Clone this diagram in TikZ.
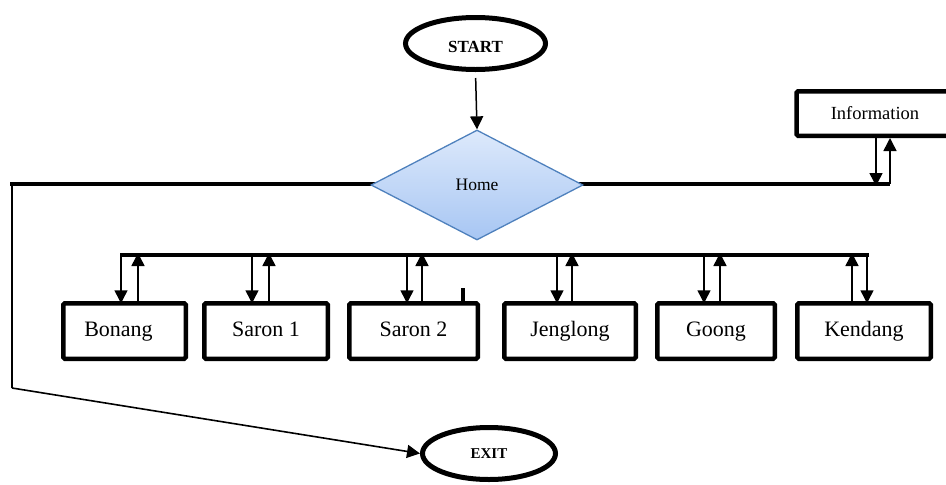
\documentclass[tikz,border=0pt]{standalone}
\usepackage{fontspec}
\setmainfont{Liberation Serif}
\usetikzlibrary{shapes.geometric,arrows.meta}
\definecolor{dborder}{HTML}{4F81BD}
\definecolor{dtop}{HTML}{DDE9FB}
\definecolor{dbot}{HTML}{A7C6F3}
\tikzset{
  term/.style={ellipse,draw,line width=5pt,inner sep=0pt,font=\fontsize{15}{17}\selectfont\bfseries},
  instr/.style={rectangle,draw,line width=4.5pt,rounded corners=1.5pt,inner sep=0pt,minimum height=55.5pt,
    text height=14.5pt,text depth=4.5pt,font=\fontsize{22}{26}\selectfont},
  decis/.style={diamond,draw=dborder,line width=1.3pt,top color=dtop,bottom color=dbot,
      minimum width=212pt,minimum height=110pt,aspect=1.93,inner sep=0pt,
      font=\fontsize{17.5}{20}\selectfont},
  bus/.style={line width=4.5pt},
  thinl/.style={line width=1.6pt},
  arr/.style={line width=1.5pt,-{Triangle[width=13pt,length=13pt]}},
}
\begin{document}
\begin{tikzpicture}[x=1pt,y=-1pt]
\useasboundingbox (0,0) rectangle (946,485);
% terminals
\node[term,minimum width=140pt,minimum height=52pt,text height=18pt,text depth=0pt,
      font=\fontsize{17}{19}\selectfont\bfseries] (start) at (475.5,43.5) {START};
\node[term,minimum width=133pt,minimum height=52pt] (exit) at (489,453.5) {EXIT};
% main line
\coordinate (mainL) at (10,184);
\coordinate (mainR) at (890,184);
\draw[bus] (mainL) -- (mainR);
% decision
\node[decis] (home) at (477,185) {Home};
\draw[arr,shorten <=6pt] (start.south) -- (home.north);
% information
\node[rectangle,draw,line width=4.5pt,rounded corners=1.5pt,inner sep=0pt,
      minimum width=164pt,minimum height=44.5pt,anchor=west] (info) at (794.25,113.5) {};
\node[font=\fontsize{18.5}{21}\selectfont] (infot) at (875,113) {Information};
\coordinate (ib1) at (876,184);
\coordinate (ib2) at (890,184);
\draw[arr,shorten >=-2pt] (info.south -| ib1) -- (ib1);
\draw[arr] (ib2) -- (info.south -| ib2);
% exit path
\coordinate (corner) at (12,388);
\draw[thinl] (12,184) -- (corner);
\draw[arr,line width=1.6pt] (corner) -- (exit.west);
% instrument bus
\coordinate (busL) at (122,255);
\coordinate (busR) at (867,255);
\draw[bus,line cap=rect] (busL) -- (busR);
% instruments
\node[instr,minimum width=122.5pt] (bonang) at (124.5,331) {\hspace*{-12pt}Bonang};
\node[instr,minimum width=123.5pt] (saron1) at (266,331) {Saron 1};
\node[instr,minimum width=128.5pt] (saron2) at (413.5,331) {Saron 2};
\node[instr,minimum width=131.5pt] (jeng) at (570,331) {Jenglong};
\node[instr,minimum width=117.5pt] (goong) at (716,331) {Goong};
\node[instr,minimum width=133.5pt] (kend) at (864,331) {Kendang};
% arrows: down (bus -> box), up (box -> bus)
\foreach \b/\d/\u in {bonang/-3.5/13.5, saron1/-14/3, saron2/-6.5/8.5, jeng/-13/2, goong/-12/4}{
  \draw[arr] ([xshift=\d pt]\b.north |- busL) -- ([xshift=\d pt,yshift=-2.25pt]\b.north);
  \draw[arr] ([xshift=\u pt,yshift=-2.25pt]\b.north) -- ([xshift=\u pt,yshift=2pt]\b.north |- busL);
}
\draw[arr] ([xshift=3pt]kend.north |- busL) -- ([xshift=3pt,yshift=-2.25pt]kend.north);
\draw[arr] ([xshift=-12pt,yshift=-2.25pt]kend.north) -- ([xshift=-12pt,yshift=2pt]kend.north |- busL);
% stray mark
\draw[line width=4pt] (463,288) -- (463,302);
\end{tikzpicture}
\end{document}
